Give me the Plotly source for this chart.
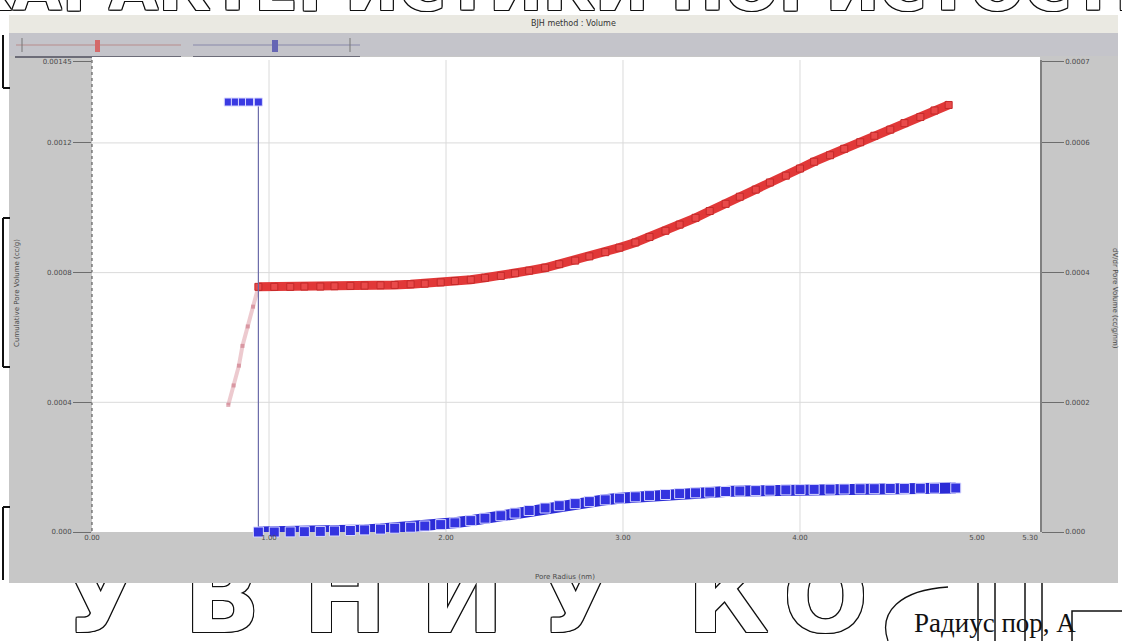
import plotly.graph_objects as go

# ---------------- data ----------------
# cumulative pore volume (left axis)
red_x = [0.94, 1.03, 1.12, 1.20, 1.29, 1.37, 1.46, 1.54, 1.63, 1.71, 1.80, 1.88, 1.97,
         2.05, 2.14, 2.22, 2.31, 2.39, 2.47, 2.56, 2.64, 2.73, 2.81, 2.90, 2.98, 3.07,
         3.15, 3.24, 3.32, 3.41, 3.49, 3.58, 3.66, 3.75, 3.83, 3.92, 4.00, 4.08, 4.17,
         4.25, 4.34, 4.42, 4.51, 4.59, 4.68, 4.76, 4.84]
red_y = [0.000756, 0.000756, 0.000756, 0.000757, 0.000757, 0.000758, 0.000759, 0.000760,
         0.000761, 0.000762, 0.000764, 0.000766, 0.000770, 0.000774, 0.000778, 0.000784,
         0.000790, 0.000798, 0.000806, 0.000815, 0.000826, 0.000837, 0.000850, 0.000863,
         0.000877, 0.000893, 0.000910, 0.000929, 0.000948, 0.000969, 0.000990, 0.001012,
         0.001034, 0.001056, 0.001078, 0.001099, 0.001121, 0.001142, 0.001162, 0.001182,
         0.001202, 0.001222, 0.001241, 0.001261, 0.001280, 0.001300, 0.001317]

# first (faint) leg of the cumulative curve
pink_x = [0.77, 0.80, 0.83, 0.85, 0.88, 0.91, 0.94]
pink_y = [0.000392, 0.000452, 0.000513, 0.000574, 0.000634, 0.000695, 0.000756]

# pore volume distribution (right axis)
blue_top_x = [0.77, 0.81, 0.85, 0.89, 0.94]
blue_top_y = [0.000663, 0.000663, 0.000663, 0.000663, 0.000663]
blue_x = [0.94, 1.03, 1.12, 1.20, 1.29, 1.37, 1.46, 1.54, 1.63, 1.71, 1.80, 1.88, 1.97,
          2.05, 2.14, 2.22, 2.31, 2.39, 2.47, 2.56, 2.64, 2.73, 2.81, 2.90, 2.98, 3.07,
          3.15, 3.24, 3.32, 3.41, 3.49, 3.58, 3.66, 3.75, 3.83, 3.92, 4.00, 4.08, 4.17,
          4.25, 4.34, 4.42, 4.51, 4.59, 4.68, 4.76, 4.88]
blue_y = [0.0, 0.0, 1.5e-7, 4.6e-7, 9.3e-7, 1.54e-6, 2.31e-6, 3.24e-6, 4.47e-6, 5.86e-6,
          7.40e-6, 9.25e-6, 1.141e-5, 1.419e-5, 1.758e-5, 2.128e-5, 2.513e-5, 2.914e-5,
          3.315e-5, 3.701e-5, 4.055e-5, 4.379e-5, 4.688e-5, 4.965e-5, 5.212e-5, 5.428e-5,
          5.613e-5, 5.783e-5, 5.921e-5, 6.045e-5, 6.153e-5, 6.245e-5, 6.322e-5, 6.384e-5,
          6.446e-5, 6.492e-5, 6.538e-5, 6.569e-5, 6.600e-5, 6.631e-5, 6.661e-5, 6.677e-5,
          6.708e-5, 6.723e-5, 6.739e-5, 6.754e-5, 6.785e-5]

x_tick_vals = [0, 1, 2, 3, 4, 5, 5.3]
x_tick_text = ["0.00", "1.00", "2.00", "3.00", "4.00", "5.00", "5.30"]
left_tick_vals = [0, 0.0004, 0.0008, 0.0012, 0.00145]
left_tick_text = ["0.000", "0.0004", "0.0008", "0.0012", "0.00145"]
right_tick_vals = [0, 0.0002, 0.0004, 0.0006, 0.000725]
right_tick_text = ["0.000", "0.0002", "0.0004", "0.0006", "0.0007"]
grid_x = [1, 2, 3, 4]
grid_y = [0.0004, 0.0008, 0.0012]

title_text = "BJH method : Volume"
x_title = "Pore Radius (nm)"
left_title = "Cumulative Pore Volume (cc/g)"
right_title = "dV/dr Pore Volume (cc/g/nm)"
page_caption = "Радиус пор, А"
page_letters = [("У", 100), ("В", 222), ("Н", 345), ("И", 462), ("У", 575), ("К", 728), ("О", 825)]
page_heading = "ХАРАКТЕРИСТИКИ ПОРИСТОСТИ"

# ---------------- geometry ----------------
W, H = 1122, 641
L, R, T, B = 92, 1040, 60, 532
X_MAX = 5.356
Y_MAX = 0.0014557
Y2_MAX = 0.0007278


def fx(px):
    return (px - L) / (R - L)


def fy(py):
    return (B - py) / (B - T)


WIN = "#c7c7c7"
TICKFONT = dict(family="DejaVu Sans", size=7, color="#4a4a4a")
OUTLINE = ("1px 0 0 #111, -1px 0 0 #111, 0 1px 0 #111, 0 -1px 0 #111, "
           "1px 1px 0 #111, -1px -1px 0 #111, 1px -1px 0 #111, -1px 1px 0 #111")

fig = go.Figure()

fig.add_trace(go.Scatter(
    x=pink_x, y=pink_y, mode="lines+markers",
    line=dict(color="rgba(220,150,160,0.5)", width=4),
    marker=dict(symbol="square", size=4, color="rgba(200,110,125,0.55)"),
    hoverinfo="skip"))
fig.add_trace(go.Scatter(
    x=red_x, y=red_y, mode="lines+markers",
    line=dict(color="#e13838", width=9),
    marker=dict(symbol="square", size=7, color="#e94a4a", line=dict(color="#c42a2a", width=1)),
    hoverinfo="skip"))
fig.add_trace(go.Scatter(
    x=[blue_top_x[-1], blue_x[0]], y=[blue_top_y[-1], blue_y[0]], yaxis="y2",
    mode="lines", line=dict(color="#6a6aa8", width=1.2), hoverinfo="skip"))
fig.add_trace(go.Scatter(
    x=blue_top_x, y=blue_top_y, yaxis="y2", mode="lines+markers",
    line=dict(color="#2b2bd6", width=8),
    marker=dict(symbol="square", size=8, color="#3a3ae2", line=dict(color="#d8d8ff", width=1)),
    cliponaxis=False, hoverinfo="skip"))
fig.add_trace(go.Scatter(
    x=blue_x, y=blue_y, yaxis="y2", mode="lines+markers",
    line=dict(color="#2b2bd6", width=11),
    marker=dict(symbol="square", size=10, color="#3434e0", line=dict(color="#d8d8ff", width=1)),
    cliponaxis=False, hoverinfo="skip"))

shapes = []


def rect(x0, y0, x1, y1, fill, line_color=None, lw=0):
    shapes.append(dict(type="rect", xref="paper", yref="paper", layer="below",
                       x0=fx(x0), x1=fx(x1), y0=fy(y1), y1=fy(y0),
                       fillcolor=fill, line=dict(color=line_color or fill, width=lw)))


def seg(x0, y0, x1, y1, color, width=1, dash="solid", layer="below"):
    shapes.append(dict(type="line", xref="paper", yref="paper", layer=layer,
                       x0=fx(x0), x1=fx(x1), y0=fy(y0), y1=fy(y1),
                       line=dict(color=color, width=width, dash=dash)))


# application window
rect(9, 15, 1118, 583, WIN)
rect(9, 15, 1118, 33, "#eae9e2")
rect(9, 33, 1118, 56, "#c4c4ca")
# slider controls
seg(16, 45, 181, 45, "#b88c8c", 1)
seg(15, 57, 181, 57, "#4e4e5e", 1.5)
seg(22, 38, 22, 52, "#777", 1)
rect(95, 40, 100, 52, "#d46a6a")
seg(193, 45, 360, 45, "#8888aa", 1)
seg(193, 57, 360, 57, "#4e4e5e", 1.5)
seg(350, 38, 350, 52, "#777", 1)
rect(272, 40, 278, 52, "#6666b4")
# plot area
rect(L, 57, R, B, "white")
seg(L, T, L, B, "#444", 1, "dot")

# grid
for v in grid_x:
    shapes.append(dict(type="line", xref="x", yref="paper", layer="below",
                       x0=v, x1=v, y0=0, y1=1, line=dict(color="#dadada", width=1)))
for v in grid_y:
    shapes.append(dict(type="line", xref="paper", yref="y", layer="below",
                       x0=0, x1=1, y0=v, y1=v, line=dict(color="#dadada", width=1)))

# page marks around the window
for (yt, yb) in [(35, 88), (218, 367), (507, 580)]:
    seg(3, yt, 3, yb, "#111", 2)
seg(3, 88, 10, 88, "#111", 2)
seg(3, 218, 10, 218, "#111", 2)
seg(3, 367, 10, 367, "#111", 2)
seg(3, 507, 10, 507, "#111", 2)
for xv in [978, 995, 1025, 1042]:
    seg(xv, 583, xv, 641, "#111", 1.5)
shapes.append(dict(type="rect", xref="paper", yref="paper", layer="below",
                   x0=fx(1072), x1=fx(1130), y0=fy(650), y1=fy(611),
                   line=dict(color="#111", width=1.5)))
shapes.append(dict(type="path", xref="paper", yref="paper", layer="below",
                   path="M {} {} C {} {}, {} {}, {} {}".format(
                       fx(948), fy(587), fx(900), fy(590), fx(878), fy(612), fx(888), fy(641)),
                   line=dict(color="#111", width=1.3)))

annotations = []
# large outlined page lettering (below the window)
for ch, cx in page_letters:
    annotations.append(dict(
        text=ch, xref="paper", yref="paper", x=fx(cx), y=fy(537), xanchor="center", yanchor="top",
        showarrow=False, font=dict(family="DejaVu Sans", size=100, weight="bold",
                                   color="white", shadow=OUTLINE)))
annotations.append(dict(
    text=page_heading, xref="paper", yref="paper", x=fx(565), y=fy(-51), xanchor="center",
    yanchor="top", showarrow=False,
    font=dict(family="DejaVu Sans", size=64, weight="bold", color="white", shadow=OUTLINE)))
# window bottom edge drawn over the lettering
annotations.append(dict(
    text="\u00a0", xref="paper", yref="paper", x=fx(563.5), y=fy(568), xanchor="center",
    yanchor="middle", width=1109, height=30, borderpad=0, borderwidth=0, bgcolor=WIN,
    showarrow=False, font=dict(size=6)))
annotations.append(dict(
    text=page_caption, xref="paper", yref="paper", x=fx(912), y=fy(640), xanchor="left",
    yanchor="bottom", showarrow=False,
    font=dict(family="Liberation Serif", size=27, color="#111")))
# titles
annotations.append(dict(
    text=title_text, xref="paper", yref="paper", x=fx(573), y=fy(23), xanchor="center",
    yanchor="middle", showarrow=False, font=dict(family="DejaVu Sans", size=8, color="#333")))
annotations.append(dict(
    text=x_title, xref="paper", yref="paper", x=fx(565), y=fy(577), xanchor="center",
    yanchor="middle", showarrow=False, font=TICKFONT))
annotations.append(dict(
    text=left_title, xref="paper", yref="paper", x=fx(17), y=fy(293), xanchor="center",
    yanchor="middle", textangle=-90, showarrow=False, font=TICKFONT))
annotations.append(dict(
    text=right_title, xref="paper", yref="paper", x=fx(1115), y=fy(298), xanchor="center",
    yanchor="middle", textangle=90, showarrow=False, font=TICKFONT))

fig.update_layout(
    width=W, height=H, autosize=False,
    margin=dict(l=L, r=W - R, t=T, b=H - B, pad=0),
    paper_bgcolor="white", plot_bgcolor="rgba(0,0,0,0)",
    showlegend=False,
    shapes=shapes, annotations=annotations,
    xaxis=dict(range=[0, X_MAX], tickvals=x_tick_vals, ticktext=x_tick_text,
               showgrid=False, zeroline=False, showline=False, ticks="",
               tickfont=TICKFONT, fixedrange=True),
    yaxis=dict(range=[0, Y_MAX], tickvals=left_tick_vals, ticktext=left_tick_text,
               showgrid=False, zeroline=False, showline=False, ticks="outside",
               ticklen=18, tickcolor="#6d6d6d", tickwidth=1, tickfont=TICKFONT,
               fixedrange=True),
    yaxis2=dict(range=[0, Y2_MAX], overlaying="y", side="right",
                tickvals=right_tick_vals, ticktext=right_tick_text,
                showgrid=False, zeroline=False, showline=True, linecolor="#808080",
                linewidth=1.5, ticks="outside", ticklen=22, tickcolor="#6d6d6d",
                tickwidth=1, tickfont=TICKFONT, fixedrange=True),
)

fig.write_html("out.html", config={"displayModeBar": False})
